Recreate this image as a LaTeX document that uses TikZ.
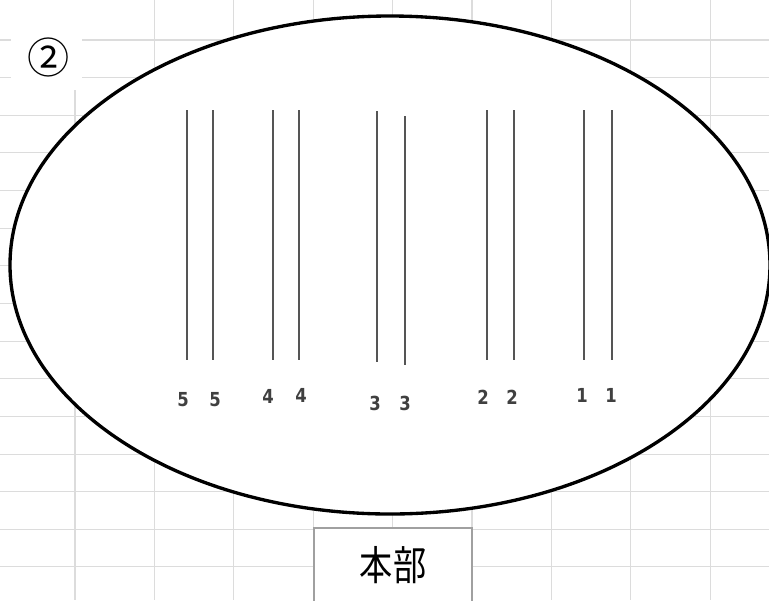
\documentclass[tikz,border=0pt]{standalone}
\usepackage{fontspec}
\setmainfont{DejaVu Sans}
\newfontfamily\jpfont{Noto Sans CJK JP}
\usepackage{tikz}
\usetikzlibrary{positioning}
\definecolor{gridcol}{HTML}{DCDCDC}
\definecolor{barcol}{HTML}{555555}
\definecolor{numcol}{HTML}{404040}
\definecolor{boxcol}{HTML}{A0A0A0}

\begin{document}
\begin{tikzpicture}[x=0.02cm,y=-0.02cm,
  gridline/.style={gridcol,line width=0.6pt},
  rim/.style={draw=black,fill=white,line width=1.9pt},
  bar/.style={barcol,line width=1.1pt},
  numlbl/.style={text=numcol,font=\bfseries\fontsize{11}{13}\selectfont,
                 inner sep=0pt,xscale=0.85},
  hqbox/.style={draw=boxcol,fill=white,line width=0.8pt},
]
\useasboundingbox (0,0) rectangle (769,600);
\clip (0,0) rectangle (769,600);

% sheet grid behind
\foreach \gx in {0,...,8}
  \draw[gridline] ({75+79.4*\gx},0) -- ({75+79.4*\gx},600);
\foreach \gy in {0,...,14}
  \draw[gridline] (0,{40+37.64*\gy}) -- (769,{40+37.64*\gy});

% tag
\fill[white] (11,0) rectangle (82,90);
\node[font=\jpfont\fontsize{24}{26}\selectfont,inner sep=0pt] (tag) at (49,57) {②};

% field
\draw[rim] (390,265) ellipse [x radius=380, y radius=249];

% lanes
\foreach \lx/\ltop/\lbot in {187/110/360, 213/110/360, 273/110/360, 299/110/360,
    377/111/362, 405/116/365, 487/110/360, 514/110/360, 584/110/360, 612/110/360}
  \draw[bar] (\lx,\ltop) -- (\lx,\lbot);

\node[numlbl] (n5a) at (183,400) {5};
\node[numlbl] (n5b) at (215,400) {5};
\node[numlbl] (n4a) at (268,396) {4};
\node[numlbl] (n4b) at (301,395) {4};
\node[numlbl] (n3a) at (375,403) {3};
\node[numlbl] (n3b) at (405,403) {3};
\node[numlbl] (n2a) at (483,397) {2};
\node[numlbl] (n2b) at (512,397) {2};
\node[numlbl] (n1a) at (582,395) {1};
\node[numlbl] (n1b) at (611,395) {1};

% headquarters
\draw[hqbox] (314,528) rectangle (472,620);
\node[font=\jpfont\fontsize{21}{23}\selectfont,inner sep=0pt,xscale=0.9,yscale=1.1]
  (hq) at (393,565) {本部};
\end{tikzpicture}
\end{document}
